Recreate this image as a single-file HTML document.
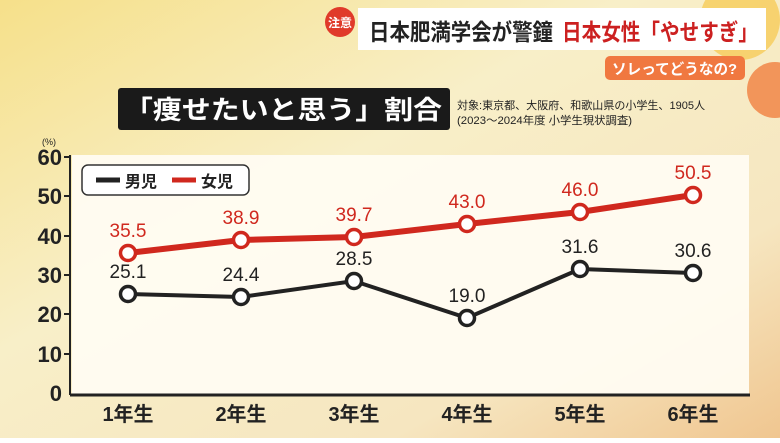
<!DOCTYPE html>
<html><head><meta charset="utf-8"><style>
body{margin:0;width:780px;height:438px;overflow:hidden;font-family:"Liberation Sans","Noto Sans CJK JP",sans-serif}
</style></head><body>
<svg width="780" height="438" xmlns="http://www.w3.org/2000/svg" font-family="Liberation Sans, Noto Sans CJK JP, sans-serif">
<defs>
<linearGradient id="bg" x1="0" y1="0" x2="1" y2="1">
<stop offset="0" stop-color="#f6e08a"/><stop offset="0.4" stop-color="#f8efc8"/><stop offset="0.75" stop-color="#f6e6c0"/><stop offset="1" stop-color="#f0c690"/>
</linearGradient>
</defs>
<rect width="780" height="438" fill="url(#bg)"/>
<circle cx="740" cy="20" r="40" fill="#f7c84a" opacity="0.7"/>
<circle cx="775" cy="90" r="28" fill="#f08040" opacity="0.8"/>
<!-- header -->
<rect x="358" y="8" width="408" height="42" fill="#fff"/>
<circle cx="340" cy="22" r="15" fill="#e03a2a"/>
<text x="340" y="27" font-size="12" fill="#fff" text-anchor="middle" font-weight="bold">注意</text>
<text x="369" y="40" font-size="23" fill="#222" font-weight="bold" textLength="184" lengthAdjust="spacingAndGlyphs">日本肥満学会が警鐘</text>
<text x="562" y="40" font-size="23" fill="#cc2020" font-weight="bold" textLength="196" lengthAdjust="spacingAndGlyphs">日本女性「やせすぎ」</text>
<rect x="605" y="56" width="140" height="24" rx="5" fill="#f07840"/>
<text x="612" y="74" font-size="15" fill="#fff" font-weight="bold" textLength="125" lengthAdjust="spacingAndGlyphs">ソレってどうなの?</text>
<!-- title -->
<rect x="118" y="88" width="332" height="42" rx="3" fill="#1a1a1a"/>
<text x="124" y="119" font-size="26" fill="#fff" font-weight="bold" textLength="318" lengthAdjust="spacingAndGlyphs">「痩せたいと思う」割合</text>
<text x="457" y="109" font-size="11" fill="#222" textLength="248" lengthAdjust="spacingAndGlyphs">対象:東京都、大阪府、和歌山県の小学生、1905人</text>
<text x="457" y="124" font-size="11" fill="#222" textLength="175" lengthAdjust="spacingAndGlyphs">(2023〜2024年度 小学生現状調査)</text>
<!-- panel -->
<rect x="72" y="155" width="677" height="240" fill="#fffcf2" opacity="0.95"/>
<line x1="70" y1="155" x2="70" y2="395" stroke="#222" stroke-width="2"/>
<line x1="70" y1="395" x2="750" y2="395" stroke="#222" stroke-width="3"/>
<g font-size="22" font-weight="bold" fill="#222" text-anchor="end">
<text x="62" y="165">60</text><text x="62" y="204">50</text><text x="62" y="244">40</text><text x="62" y="283">30</text><text x="62" y="322">20</text><text x="62" y="362">10</text><text x="62" y="401">0</text>
</g>
<g stroke="#222" stroke-width="2">
<line x1="64" y1="157" x2="70" y2="157"/><line x1="64" y1="196" x2="70" y2="196"/><line x1="64" y1="236" x2="70" y2="236"/><line x1="64" y1="275" x2="70" y2="275"/><line x1="64" y1="314" x2="70" y2="314"/><line x1="64" y1="354" x2="70" y2="354"/>
</g>
<text x="42" y="145" font-size="9" fill="#222">(%)</text>
<!-- legend -->
<rect x="82" y="165" width="167" height="30" rx="6" fill="#fff" stroke="#333" stroke-width="1.5"/>
<line x1="96" y1="180" x2="120" y2="180" stroke="#222" stroke-width="5"/>
<text x="125" y="187" font-size="16" font-weight="bold" fill="#222">男児</text>
<line x1="172" y1="180" x2="196" y2="180" stroke="#d0281e" stroke-width="5"/>
<text x="201" y="187" font-size="16" font-weight="bold" fill="#222">女児</text>
<!-- series -->
<polyline points="128,294 241,297 354,281 467,318 580,269 693,273" fill="none" stroke="#222" stroke-width="4"/>
<polyline points="128,253 241,240 354,237 467,224 580,212 693,195" fill="none" stroke="#d0281e" stroke-width="6"/>
<g fill="#fff" stroke="#222" stroke-width="3.5">
<circle cx="128" cy="294" r="7.5"/><circle cx="241" cy="297" r="7.5"/><circle cx="354" cy="281" r="7.5"/><circle cx="467" cy="318" r="7.5"/><circle cx="580" cy="269" r="7.5"/><circle cx="693" cy="273" r="7.5"/>
</g>
<g fill="#fff" stroke="#d0281e" stroke-width="3.5">
<circle cx="128" cy="253" r="7.5"/><circle cx="241" cy="240" r="7.5"/><circle cx="354" cy="237" r="7.5"/><circle cx="467" cy="224" r="7.5"/><circle cx="580" cy="212" r="7.5"/><circle cx="693" cy="195" r="7.5"/>
</g>
<g font-size="19" fill="#d0281e" text-anchor="middle">
<text x="128" y="237">35.5</text><text x="241" y="224">38.9</text><text x="354" y="221">39.7</text><text x="467" y="208">43.0</text><text x="580" y="196">46.0</text><text x="693" y="179">50.5</text>
</g>
<g font-size="19" fill="#222" text-anchor="middle">
<text x="128" y="278">25.1</text><text x="241" y="281">24.4</text><text x="354" y="265">28.5</text><text x="467" y="302">19.0</text><text x="580" y="253">31.6</text><text x="693" y="257">30.6</text>
</g>
<g font-size="20" font-weight="bold" fill="#222" text-anchor="middle">
<text x="128" y="421">1年生</text><text x="241" y="421">2年生</text><text x="354" y="421">3年生</text><text x="467" y="421">4年生</text><text x="580" y="421">5年生</text><text x="693" y="421">6年生</text>
</g>
</svg>
</body></html>
